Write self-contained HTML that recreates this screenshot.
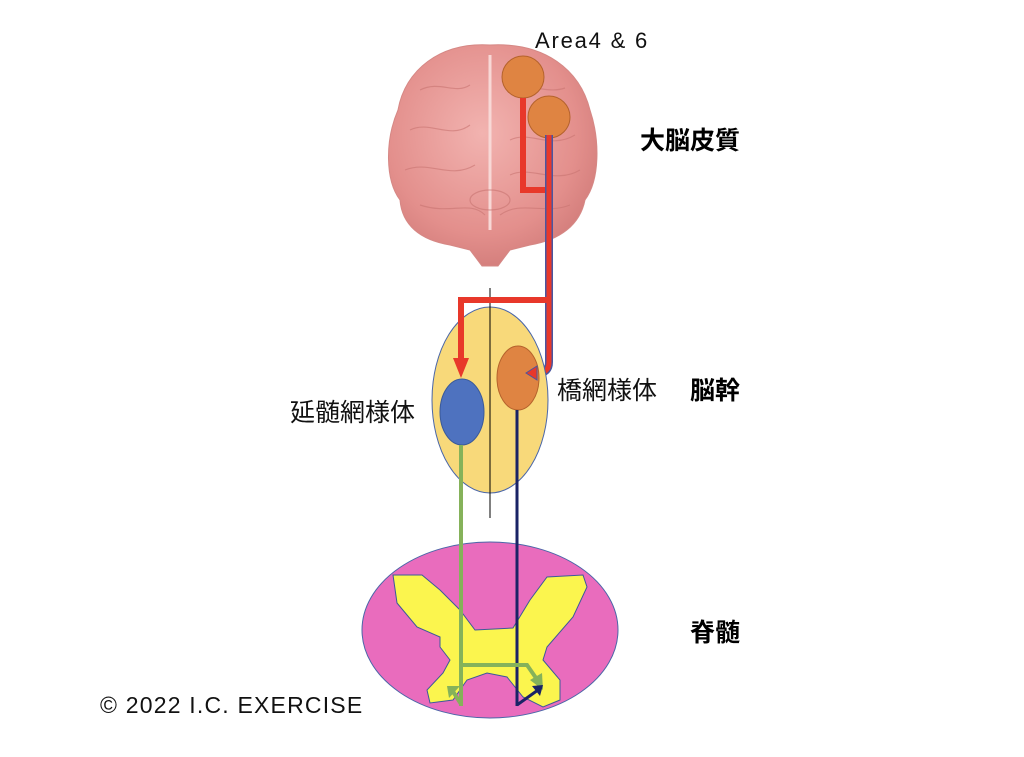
<!DOCTYPE html>
<html><head><meta charset="utf-8"><style>
html,body{margin:0;padding:0;background:#fff;}
svg{display:block;}
text{font-family:"Liberation Sans","Noto Sans CJK JP",sans-serif;}
</style></head><body>
<svg width="1024" height="757" viewBox="0 0 1024 757" xmlns="http://www.w3.org/2000/svg">
<defs>
<radialGradient id="bg" cx="0.45" cy="0.4" r="0.65">
<stop offset="0" stop-color="#f2b3b0"/><stop offset="0.7" stop-color="#e38f8c"/><stop offset="1" stop-color="#d07a78"/>
</radialGradient>
</defs>
<path d="M490 45 C440 42 405 70 398 110 C385 140 385 180 400 200 C402 225 420 240 450 245 L470 250 L476 258 L482 266 L498 266 L504 258 L510 250 L530 245 C560 240 580 225 585 200 C600 180 600 140 590 110 C580 70 545 42 490 45 Z" fill="url(#bg)" stroke="#d58885" stroke-width="1"/>
<path d="M490 55 L490 230" stroke="#f8d8d6" stroke-width="3"/>
<g stroke="#c97572" stroke-width="1.2" fill="none" opacity="0.6">
<path d="M420 90 C440 80 455 95 470 85"/><path d="M410 130 C430 120 450 140 470 125"/><path d="M405 170 C430 160 450 180 475 165"/>
<path d="M510 90 C525 80 545 95 565 88"/><path d="M510 140 C530 130 550 150 575 135"/><path d="M510 175 C530 165 555 185 580 170"/>
<path d="M420 205 C450 215 470 200 485 215"/><path d="M500 215 C520 200 545 215 570 205"/>
<ellipse cx="490" cy="200" rx="20" ry="10"/>
</g>
<circle cx="523" cy="77" r="21" fill="#df8442" stroke="#b4622c" stroke-width="1"/>
<circle cx="549" cy="117" r="21" fill="#df8442" stroke="#b4622c" stroke-width="1"/>
<path d="M523 98 L523 190 L549 190" stroke="#e8382a" stroke-width="6" fill="none"/>
<path d="M549 135 L549 362 Q549 373 538 373 L532 373" stroke="#4a56a0" stroke-width="8" fill="none"/>
<path d="M549 135 L549 362 Q549 373 538 373 L532 373" stroke="#e8382a" stroke-width="5" fill="none"/>
<ellipse cx="490" cy="400" rx="58" ry="93" fill="#f8d97a" stroke="#4a66a8" stroke-width="1"/>
<line x1="490" y1="288" x2="490" y2="518" stroke="#000" stroke-width="1"/>
<path d="M549 300 L461 300 L461 360" stroke="#e8382a" stroke-width="6" fill="none"/>
<polygon points="453,358 469,358 461,378" fill="#e8382a"/>
<ellipse cx="462" cy="412" rx="22" ry="33" fill="#4e72bf" stroke="#3a5a9a" stroke-width="1"/>
<ellipse cx="518" cy="378" rx="21" ry="32" fill="#df8442" stroke="#b4622c" stroke-width="1"/>
<polygon points="526,373 537,366 537,380" fill="#e8382a" stroke="#4a56a0" stroke-width="1"/>
<ellipse cx="490" cy="630" rx="128" ry="88" fill="#e96cbd" stroke="#4a66a8" stroke-width="1"/>
<polygon points="393,575 422,575 440,590 460,610 475,630 513,628 530,600 547,577 583,575 587,587 573,617 547,647 543,660 560,680 560,700 543,707 523,697 507,677 487,673 467,680 453,700 430,703 427,690 443,673 450,660 440,647 440,637 417,627 397,603" fill="#fbf54e" stroke="#3a5a9a" stroke-width="1"/>
<line x1="461" y1="445" x2="461" y2="706" stroke="#85b25a" stroke-width="4"/>
<line x1="517" y1="410" x2="517" y2="706" stroke="#1a2366" stroke-width="3"/>
<path d="M461 665 L527 665 L536 678" stroke="#85b25a" stroke-width="4" fill="none"/>
<polygon points="530,680 542,673 543,690" fill="#85b25a"/>
<path d="M461 704 L452 690" stroke="#85b25a" stroke-width="4"/>
<polygon points="447,686 460,686 449,698" fill="#85b25a"/>
<path d="M517 705 L538 690" stroke="#1a2366" stroke-width="3"/>
<polygon points="543,685 532,686 540,696" fill="#1a2366"/>
<text x="535" y="48" font-size="22" letter-spacing="1.8" fill="#111">Area4 &amp; 6</text>
<text x="640" y="149" font-size="25" font-weight="bold" fill="#000">大脳皮質</text>
<text x="557" y="399" font-size="25" fill="#111">橋網様体</text>
<text x="290" y="421" font-size="25" fill="#111">延髄網様体</text>
<text x="690" y="399" font-size="25" font-weight="bold" fill="#000">脳幹</text>
<text x="690" y="641" font-size="25" font-weight="bold" fill="#000">脊髄</text>
<text x="100" y="713" font-size="23" letter-spacing="1.2" fill="#111">© 2022 I.C. EXERCISE</text>
</svg>
</body></html>
